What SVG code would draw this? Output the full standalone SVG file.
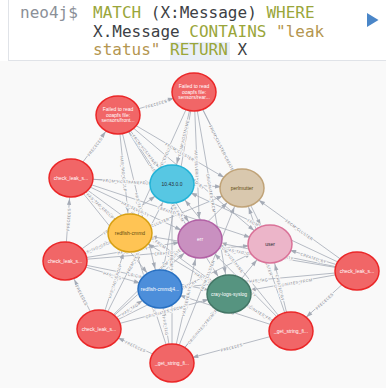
<svg xmlns="http://www.w3.org/2000/svg" xmlns:xlink="http://www.w3.org/1999/xlink" width="386" height="388" viewBox="0 0 386 388">
  <style>
    .cmd { font-family: "DejaVu Sans Mono", "Liberation Mono", monospace; font-size: 16px; fill: #3d3f45; }
    .prompt { fill: #8b9098; }
    .kw { fill: #9aa63a; }
    .str { fill: #b4964f; }
    .edges path { stroke: #a5abb6; stroke-width: 0.8; fill: none; }
    .edges .fwd { marker-end: url(#ah); }
    .edges .rev { marker-start: url(#ah); }
    .el { font-family: "Liberation Sans", Arial, sans-serif; font-size: 4px; fill: #7d828c; text-anchor: middle; dominant-baseline: central; paint-order: stroke; stroke: #f9f9f9; stroke-width: 1.8; }
    .node ellipse { stroke-width: 1.5; }
    .node text { font-family: "Liberation Sans", Arial, sans-serif; font-size: 5px; text-anchor: middle; }
    .red ellipse { fill: #f16667; stroke: #eb2728; }
    .red text, .pur text, .blue text, .green text { fill: #ffffff; }
    .cyan ellipse { fill: #57c7e3; stroke: #23b3d7; }
    .cyan text, .pink text { fill: #2a2c34; }
    .tan ellipse { fill: #d9c8ae; stroke: #c0a378; }
    .tan text, .yel text { fill: #604a0e; }
    .yel ellipse { fill: #ffc454; stroke: #d7a013; }
    .pur ellipse { fill: #c990c0; stroke: #b261a5; }
    .pink ellipse { fill: #ecb5c9; stroke: #da7298; }
    .blue ellipse { fill: #4c8eda; stroke: #2870c2; }
    .green ellipse { fill: #569480; stroke: #447666; }
  </style>
  <defs>
    <!-- arrowhead drawn back from the path end so its tip sits on the node rim -->
    <marker id="ah" viewBox="0 0 30 6" refX="27" refY="3" markerWidth="30" markerHeight="6" markerUnits="userSpaceOnUse" orient="auto-start-reverse" overflow="visible">
      <path d="M0 0.9 L6.5 3 L0 5.1 z" fill="#a5abb6"/>
    </marker>
  </defs>

  <!-- query editor -->
  <rect x="0" y="0" width="386" height="61" fill="#ffffff"/>
  <rect x="0" y="61" width="386" height="327" fill="#f9f9f9"/>
  <line x1="8.5" y1="0" x2="8.5" y2="61" stroke="#e0e3e8" stroke-width="1"/>
  <line x1="8" y1="60.5" x2="386" y2="60.5" stroke="#e0e3e8" stroke-width="1"/>
  <rect x="170" y="42" width="60" height="18" fill="#e9eff7"/>
  <text class="cmd" xml:space="preserve"><tspan class="prompt" x="20" y="18">neo4j$</tspan><tspan x="93" y="18" class="kw">MATCH</tspan><tspan> (X:Message) </tspan><tspan class="kw">WHERE</tspan></text>
  <text class="cmd" xml:space="preserve"><tspan x="93" y="37">X.Message </tspan><tspan class="kw">CONTAINS</tspan><tspan class="str"> "leak</tspan></text>
  <text class="cmd" xml:space="preserve"><tspan x="93" y="55" class="str">status" </tspan><tspan class="kw">RETURN</tspan><tspan> X</tspan></text>
  <path d="M367 13 L378.5 20 L367 27 z" fill="#4a86c8"/>

  <!-- relationships -->
  <g id="edges" class="edges">
    <!-- Failed to read ... sensors/rear -->
    <path id="e1" class="rev" d="M172 184 L194 92"/>
    <path id="e2" class="fwd" d="M194 92 L242 188"/>
    <path id="e3" class="rev" d="M130 233 L194 92"/>
    <path id="e4" class="fwd" d="M194 92 L200 239"/>
    <path id="e5" class="fwd" d="M194 92 L270 244"/>
    <path id="e6" class="rev" d="M160 289 L194 92"/>
    <path id="e7" class="fwd" d="M194 92 L229 294"/>
    <!-- Failed to read ... sensors/front -->
    <path id="e8" class="fwd" d="M118 115 L172 184"/>
    <path id="e9" class="fwd" d="M118 115 L242 188"/>
    <path id="e10" class="fwd" d="M118 115 L130 233"/>
    <path id="e11" class="fwd" d="M118 115 L200 239"/>
    <path id="e12" class="fwd" d="M118 115 L270 244"/>
    <path id="e13" class="fwd" d="M118 115 L160 289"/>
    <path id="e14" class="fwd" d="M118 115 L229 294"/>
    <!-- check_leak, upper left -->
    <path id="e15" class="fwd" d="M71 178 L172 184"/>
    <path id="e16" class="fwd" d="M71 178 L242 188"/>
    <path id="e17" class="fwd" d="M71 178 L130 233"/>
    <path id="e18" class="fwd" d="M71 178 L200 239"/>
    <path id="e19" class="fwd" d="M71 178 L270 244"/>
    <path id="e20" class="fwd" d="M71 178 L160 289"/>
    <path id="e21" class="fwd" d="M71 178 L229 294"/>
    <!-- check_leak, left -->
    <path id="e22" class="fwd" d="M65 261 L172 184"/>
    <path id="e23" class="fwd" d="M65 261 L242 188"/>
    <path id="e24" class="fwd" d="M65 261 L130 233"/>
    <path id="e25" class="fwd" d="M65 261 L200 239"/>
    <path id="e26" class="fwd" d="M65 261 L270 244"/>
    <path id="e27" class="fwd" d="M65 261 L160 289"/>
    <path id="e28" class="fwd" d="M65 261 L229 294"/>
    <!-- check_leak, right -->
    <path id="e29" class="rev" d="M172 184 L357 271"/>
    <path id="e30" class="rev" d="M242 188 L357 271"/>
    <path id="e31" class="rev" d="M130 233 L357 271"/>
    <path id="e32" class="rev" d="M200 239 L357 271"/>
    <path id="e33" class="rev" d="M270 244 L357 271"/>
    <path id="e34" class="rev" d="M160 289 L357 271"/>
    <path id="e35" class="rev" d="M229 294 L357 271"/>
    <!-- check_leak, lower left -->
    <path id="e36" class="fwd" d="M99 329 L172 184"/>
    <path id="e37" class="fwd" d="M99 329 L242 188"/>
    <path id="e38" class="fwd" d="M99 329 L130 233"/>
    <path id="e39" class="fwd" d="M99 329 L200 239"/>
    <path id="e40" class="fwd" d="M99 329 L270 244"/>
    <path id="e41" class="fwd" d="M99 329 L160 289"/>
    <path id="e42" class="fwd" d="M99 329 L229 294"/>
    <!-- _get_string_fi, right -->
    <path id="e43" class="rev" d="M172 184 L291 331"/>
    <path id="e44" class="rev" d="M242 188 L291 331"/>
    <path id="e45" class="rev" d="M130 233 L291 331"/>
    <path id="e46" class="rev" d="M200 239 L291 331"/>
    <path id="e47" class="rev" d="M270 244 L291 331"/>
    <path id="e48" class="rev" d="M160 289 L291 331"/>
    <path id="e49" class="rev" d="M229 294 L291 331"/>
    <!-- _get_string_fi, bottom -->
    <path id="e50" class="rev" d="M172 184 L172 363"/>
    <path id="e51" class="fwd" d="M172 363 L242 188"/>
    <path id="e52" class="rev" d="M130 233 L172 363"/>
    <path id="e53" class="fwd" d="M172 363 L200 239"/>
    <path id="e54" class="fwd" d="M172 363 L270 244"/>
    <path id="e55" class="rev" d="M160 289 L172 363"/>
    <path id="e56" class="fwd" d="M172 363 L229 294"/>
    <!-- PRECEDES chain -->
    <path id="e57" class="rev" d="M291 331 L357 271"/>
    <path id="e58" class="rev" d="M172 363 L291 331"/>
    <path id="e59" class="rev" d="M99 329 L172 363"/>
    <path id="e60" class="rev" d="M65 261 L99 329"/>
    <path id="e61" class="fwd" d="M65 261 L71 178"/>
    <path id="e62" class="fwd" d="M71 178 L118 115"/>
    <path id="e63" class="fwd" d="M118 115 L194 92"/>

    <g id="edge-labels">
      <text class="el"><textPath href="#e1" startOffset="50%">FROM_HOSTNAME</textPath></text>
      <text class="el"><textPath href="#e2" startOffset="50%">FROM_CLUSTER</textPath></text>
      <text class="el"><textPath href="#e3" startOffset="50%">HAS_TAG_GROUP</textPath></text>
      <text class="el"><textPath href="#e4" startOffset="50%">HAS_SEVERITY</textPath></text>
      <text class="el"><textPath href="#e5" startOffset="50%">CREATED_BY</textPath></text>
      <text class="el"><textPath href="#e6" startOffset="50%">HAS_TAG</textPath></text>
      <text class="el"><textPath href="#e7" startOffset="50%">ORIGINATES_FROM</textPath></text>
      <text class="el"><textPath href="#e8" startOffset="50%">FROM_HOSTNAME</textPath></text>
      <text class="el"><textPath href="#e9" startOffset="50%">FROM_CLUSTER</textPath></text>
      <text class="el"><textPath href="#e10" startOffset="50%">HAS_TAG_GROUP</textPath></text>
      <text class="el"><textPath href="#e11" startOffset="50%">HAS_SEVERITY</textPath></text>
      <text class="el"><textPath href="#e12" startOffset="50%">CREATED_BY</textPath></text>
      <text class="el"><textPath href="#e13" startOffset="50%">HAS_TAG</textPath></text>
      <text class="el"><textPath href="#e14" startOffset="50%">ORIGINATES_FROM</textPath></text>
      <text class="el"><textPath href="#e15" startOffset="50%">FROM_HOSTNAME</textPath></text>
      <text class="el"><textPath href="#e16" startOffset="50%">FROM_CLUSTER</textPath></text>
      <text class="el"><textPath href="#e17" startOffset="50%">HAS_TAG_GROUP</textPath></text>
      <text class="el"><textPath href="#e18" startOffset="50%">HAS_SEVERITY</textPath></text>
      <text class="el"><textPath href="#e19" startOffset="50%">CREATED_BY</textPath></text>
      <text class="el"><textPath href="#e20" startOffset="50%">HAS_TAG</textPath></text>
      <text class="el"><textPath href="#e21" startOffset="50%">ORIGINATES_FROM</textPath></text>
      <text class="el"><textPath href="#e22" startOffset="50%">FROM_HOSTNAME</textPath></text>
      <text class="el"><textPath href="#e23" startOffset="50%">FROM_CLUSTER</textPath></text>
      <text class="el"><textPath href="#e24" startOffset="50%">HAS_TAG_GROUP</textPath></text>
      <text class="el"><textPath href="#e25" startOffset="50%">HAS_SEVERITY</textPath></text>
      <text class="el"><textPath href="#e26" startOffset="50%">CREATED_BY</textPath></text>
      <text class="el"><textPath href="#e27" startOffset="50%">HAS_TAG</textPath></text>
      <text class="el"><textPath href="#e28" startOffset="50%">ORIGINATES_FROM</textPath></text>
      <text class="el"><textPath href="#e29" startOffset="50%">FROM_HOSTNAME</textPath></text>
      <text class="el"><textPath href="#e30" startOffset="50%">FROM_CLUSTER</textPath></text>
      <text class="el"><textPath href="#e31" startOffset="50%">HAS_TAG_GROUP</textPath></text>
      <text class="el"><textPath href="#e32" startOffset="50%">HAS_SEVERITY</textPath></text>
      <text class="el"><textPath href="#e33" startOffset="50%">CREATED_BY</textPath></text>
      <text class="el"><textPath href="#e34" startOffset="50%">HAS_TAG</textPath></text>
      <text class="el"><textPath href="#e35" startOffset="50%">ORIGINATES_FROM</textPath></text>
      <text class="el"><textPath href="#e36" startOffset="50%">FROM_HOSTNAME</textPath></text>
      <text class="el"><textPath href="#e37" startOffset="50%">FROM_CLUSTER</textPath></text>
      <text class="el"><textPath href="#e38" startOffset="50%">HAS_TAG_GROUP</textPath></text>
      <text class="el"><textPath href="#e39" startOffset="50%">HAS_SEVERITY</textPath></text>
      <text class="el"><textPath href="#e40" startOffset="50%">CREATED_BY</textPath></text>
      <text class="el"><textPath href="#e41" startOffset="50%">HAS_TAG</textPath></text>
      <text class="el"><textPath href="#e42" startOffset="50%">ORIGINATES_FROM</textPath></text>
      <text class="el"><textPath href="#e43" startOffset="50%">FROM_HOSTNAME</textPath></text>
      <text class="el"><textPath href="#e44" startOffset="50%">FROM_CLUSTER</textPath></text>
      <text class="el"><textPath href="#e45" startOffset="50%">HAS_TAG_GROUP</textPath></text>
      <text class="el"><textPath href="#e46" startOffset="50%">HAS_SEVERITY</textPath></text>
      <text class="el"><textPath href="#e47" startOffset="50%">CREATED_BY</textPath></text>
      <text class="el"><textPath href="#e48" startOffset="50%">HAS_TAG</textPath></text>
      <text class="el"><textPath href="#e49" startOffset="50%">ORIGINATES_FROM</textPath></text>
      <text class="el"><textPath href="#e50" startOffset="50%">FROM_HOSTNAME</textPath></text>
      <text class="el"><textPath href="#e51" startOffset="50%">FROM_CLUSTER</textPath></text>
      <text class="el"><textPath href="#e52" startOffset="50%">HAS_TAG_GROUP</textPath></text>
      <text class="el"><textPath href="#e53" startOffset="50%">HAS_SEVERITY</textPath></text>
      <text class="el"><textPath href="#e54" startOffset="50%">CREATED_BY</textPath></text>
      <text class="el"><textPath href="#e55" startOffset="50%">HAS_TAG</textPath></text>
      <text class="el"><textPath href="#e56" startOffset="50%">ORIGINATES_FROM</textPath></text>
      <text class="el"><textPath href="#e57" startOffset="50%">PRECEDES</textPath></text>
      <text class="el"><textPath href="#e58" startOffset="50%">PRECEDES</textPath></text>
      <text class="el"><textPath href="#e59" startOffset="50%">PRECEDES</textPath></text>
      <text class="el"><textPath href="#e60" startOffset="50%">PRECEDES</textPath></text>
      <text class="el"><textPath href="#e61" startOffset="50%">PRECEDES</textPath></text>
      <text class="el"><textPath href="#e62" startOffset="50%">PRECEDES</textPath></text>
      <text class="el"><textPath href="#e63" startOffset="50%">PRECEDES</textPath></text>
    </g>
  </g>

  <!-- nodes -->
  <g id="n-failed-rear" class="node red"><ellipse cx="194" cy="92" rx="22" ry="19"/><text x="194" y="88"><tspan x="194">Failed to read</tspan><tspan x="194" dy="5.5">ooapfs file:</tspan><tspan x="194" dy="5.5">sensors/rear...</tspan></text></g>
  <g id="n-failed-front" class="node red"><ellipse cx="118" cy="115" rx="22" ry="19"/><text x="118" y="111"><tspan x="118">Failed to read</tspan><tspan x="118" dy="5.5">ooapfs file:</tspan><tspan x="118" dy="5.5">sensors/front...</tspan></text></g>
  <g id="n-check-1" class="node red"><ellipse cx="71" cy="178" rx="22" ry="19"/><text x="71" y="179.7">check_leak_s...</text></g>
  <g id="n-hostname" class="node cyan"><ellipse cx="172" cy="184" rx="22" ry="19"/><text x="172" y="185.7">10.43.0.0</text></g>
  <g id="n-cluster" class="node tan"><ellipse cx="242" cy="188" rx="22" ry="19"/><text x="242" y="189.7">perlmutter</text></g>
  <g id="n-tag-group" class="node yel"><ellipse cx="130" cy="233" rx="22" ry="19"/><text x="130" y="234.7">redfish-cmmd</text></g>
  <g id="n-severity" class="node pur"><ellipse cx="200" cy="239" rx="22" ry="19"/><text x="200" y="240.7">err</text></g>
  <g id="n-user" class="node pink"><ellipse cx="270" cy="244" rx="22" ry="19"/><text x="270" y="245.7">user</text></g>
  <g id="n-check-2" class="node red"><ellipse cx="65" cy="261" rx="22" ry="19"/><text x="65" y="262.7">check_leak_s...</text></g>
  <g id="n-check-3" class="node red"><ellipse cx="357" cy="271" rx="22" ry="19"/><text x="357" y="272.7">check_leak_s...</text></g>
  <g id="n-tag" class="node blue"><ellipse cx="160" cy="289" rx="22" ry="19"/><text x="160" y="290.7">redfish-cmmdj4...</text></g>
  <g id="n-syslog" class="node green"><ellipse cx="229" cy="294" rx="22" ry="19"/><text x="229" y="295.7">cray-logs-syslog</text></g>
  <g id="n-check-4" class="node red"><ellipse cx="99" cy="329" rx="22" ry="19"/><text x="99" y="330.7">check_leak_s...</text></g>
  <g id="n-get-1" class="node red"><ellipse cx="291" cy="331" rx="22" ry="19"/><text x="291" y="332.7">_get_string_fi...</text></g>
  <g id="n-get-2" class="node red"><ellipse cx="172" cy="363" rx="22" ry="19"/><text x="172" y="364.7">_get_string_fi...</text></g>
</svg>
